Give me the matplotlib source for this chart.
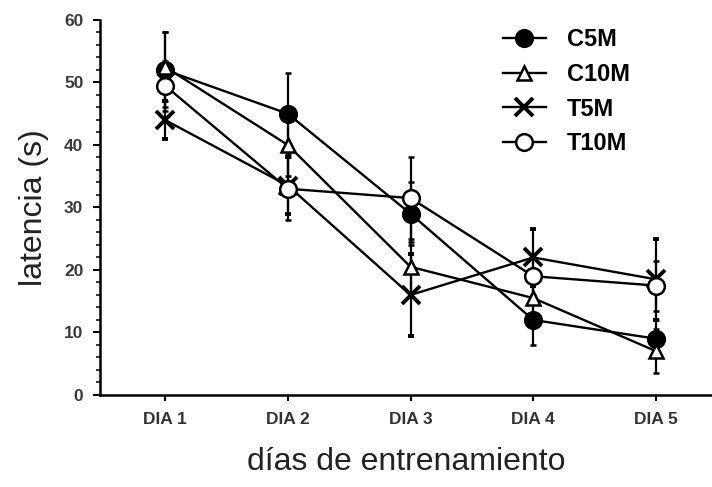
import numpy as np
import matplotlib
matplotlib.use("Agg")
import matplotlib.pyplot as plt
from matplotlib.ticker import MultipleLocator

plt.rcParams["font.family"] = ["Liberation Sans", "DejaVu Sans"]

days = ["DIA 1", "DIA 2", "DIA 3", "DIA 4", "DIA 5"]

c5m = [52, 45, 29, 12, 9]
c5m_err = [6, 6.5, 5, 4, 3]
c10m = [52.5, 40, 20.5, 15.5, 7]
c10m_err = [5.5, 5, 4, 3, 3.5]
t5m = [44, 33.5, 16, 22, 18.5]
t5m_err = [3, 4.5, 6.5, 4.5, 6.5]
t10m = [49.5, 33, 31.5, 19, 17.5]
t10m_err = [4, 5, 6.5, 3.5, 4]

series = [
    ("C5M", c5m, c5m_err, dict(marker="o", mfc="black", ms=12)),
    ("C10M", c10m, c10m_err, dict(marker="^", mfc="white", ms=10)),
    ("T5M", t5m, t5m_err, dict(marker="x", mfc="black", ms=13, mew=2.8)),
    ("T10M", t10m, t10m_err, dict(marker="o", mfc="white", ms=12)),
]

fig = plt.figure(figsize=(7.12, 4.87), dpi=100)
ax = fig.add_axes([0.1404, 0.189, 0.8596, 0.77])

x = np.arange(1, len(days) + 1)
handles = []
for name, vals, errs, style in series:
    style = dict(style)
    mew = style.pop("mew", 1.8)
    cont = ax.errorbar(x, vals, yerr=errs, color="black", lw=1.7, elinewidth=1.6,
                       capsize=2.5, capthick=1.6, mec="black", mew=mew, label=name,
                       zorder=3, **style)
    handles.append(cont[0])

ax.set_xlim(0.47, 5.456)
ax.set_ylim(0, 60)
ax.set_xticks(x)
ax.set_xticklabels(days, fontsize=12.5, fontweight="bold", color="#333333")
ax.yaxis.set_major_locator(MultipleLocator(10))
ax.yaxis.set_minor_locator(MultipleLocator(2))
ax.tick_params(axis="y", which="major", direction="out", length=5, width=1.5,
               labelsize=12.5, labelcolor="#3a3a3a", pad=7)
ax.tick_params(axis="y", which="minor", direction="out", length=3, width=1.1)
ax.tick_params(axis="x", direction="out", length=4, width=1.5, pad=8)
for lab in ax.get_yticklabels():
    lab.set_fontweight("bold")

for side in ("top", "right"):
    ax.spines[side].set_visible(False)
for side in ("left", "bottom"):
    ax.spines[side].set_linewidth(1.8)

ax.set_ylabel("latencia (s)", fontsize=23, color="#222222", labelpad=11)
ax.set_xlabel("días de entrenamiento", fontsize=23, color="#222222", labelpad=15)

ax.legend(handles=handles, labels=[s[0] for s in series],
          loc="upper left", bbox_to_anchor=(503 / 712, 1 - 28 / 487),
          bbox_transform=fig.transFigure, frameon=False, borderpad=0,
          borderaxespad=0, prop=dict(weight="bold", size=17),
          handlelength=1.8, handletextpad=0.9, labelspacing=0.5)

fig.savefig("out.png", dpi=100)
